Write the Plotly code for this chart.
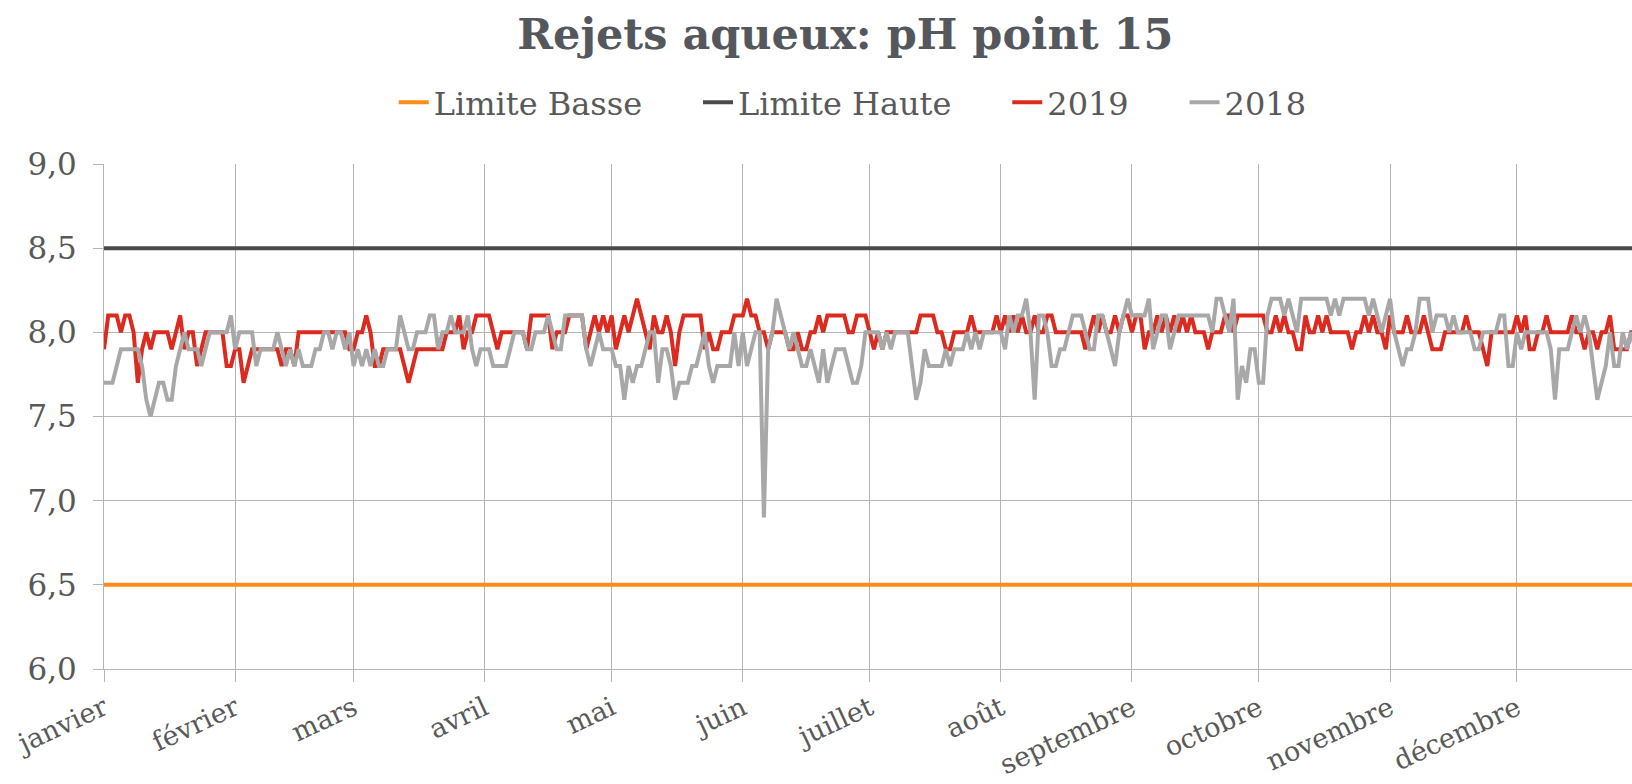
import pandas as pd
import plotly.graph_objects as go

TITLE = "Rejets aqueux: pH point 15"
MONTHS = ["janvier", "février", "mars", "avril", "mai", "juin", "juillet",
          "août", "septembre", "octobre", "novembre", "décembre"]
SERIES_NAMES = ["Limite Basse", "Limite Haute", "2019", "2018"]
LIMITE_BASSE = 6.5
LIMITE_HAUTE = 8.5

ph_2019 = [
    7.9, 8.1, 8.1, 8.1, 8.0, 8.1, 8.1, 8.0, 7.7, 7.9,
    8.0, 7.9, 8.0, 8.0, 8.0, 8.0, 7.9, 8.0, 8.1, 7.9,
    8.0, 8.0, 7.8, 7.9, 8.0, 8.0, 8.0, 8.0, 8.0, 7.8,
    7.8, 7.9, 7.9, 7.7, 7.8, 7.9, 7.9, 7.9, 7.9, 7.9,
    7.9, 7.9, 7.8, 7.9, 7.9, 7.8, 8.0, 8.0, 8.0, 8.0,
    8.0, 8.0, 8.0, 8.0, 8.0, 8.0, 8.0, 8.0, 7.9, 7.9,
    8.0, 8.0, 8.1, 8.0, 7.8, 7.8, 7.9, 7.9, 7.9, 7.9,
    7.9, 7.8, 7.7, 7.8, 7.9, 7.9, 7.9, 7.9, 7.9, 7.9,
    7.9, 8.0, 8.0, 8.0, 8.1, 7.9, 8.0, 8.0, 8.1, 8.1,
    8.1, 8.1, 8.0, 7.9, 8.0, 8.0, 8.0, 8.0, 8.0, 8.0,
    7.9, 8.1, 8.1, 8.1, 8.1, 8.1, 7.9, 8.0, 8.0, 8.0,
    8.1, 8.1, 8.1, 8.1, 7.9, 8.0, 8.1, 8.0, 8.1, 8.0,
    8.1, 7.9, 8.0, 8.1, 8.0, 8.1, 8.2, 8.1, 8.0, 7.9,
    8.1, 8.0, 8.0, 8.1, 8.0, 7.8, 8.0, 8.1, 8.1, 8.1,
    8.1, 8.1, 7.9, 8.0, 7.9, 7.9, 8.0, 8.0, 8.0, 8.1,
    8.1, 8.1, 8.2, 8.1, 8.1, 8.0, 8.0, 7.9, 8.0, 8.0,
    8.0, 8.0, 7.9, 7.9, 8.0, 7.9, 7.9, 8.0, 8.0, 8.1,
    8.0, 8.1, 8.1, 8.1, 8.1, 8.1, 8.0, 8.0, 8.1, 8.1,
    8.1, 8.0, 7.9, 8.0, 7.9, 8.0, 8.0, 8.0, 8.0, 8.0,
    8.0, 8.0, 8.0, 8.1, 8.1, 8.1, 8.1, 8.0, 8.0, 7.9,
    7.9, 8.0, 8.0, 8.0, 8.0, 8.1, 8.0, 8.0, 8.0, 8.0,
    8.0, 8.1, 8.0, 8.1, 8.0, 8.1, 8.0, 8.1, 8.0, 8.0,
    8.1, 8.0, 8.0, 8.1, 8.1, 8.0, 8.0, 8.0, 8.0, 8.0,
    8.0, 8.0, 7.9, 8.0, 8.1, 8.0, 8.1, 8.0, 8.0, 8.1,
    8.0, 8.1, 8.1, 8.0, 8.1, 8.1, 7.9, 8.0, 8.0, 8.1,
    8.0, 8.1, 8.0, 8.1, 8.0, 8.1, 8.0, 8.1, 8.0, 8.0,
    8.0, 7.9, 8.0, 8.0, 8.0, 8.1, 8.1, 8.0, 8.1, 8.1,
    8.1, 8.1, 8.1, 8.1, 8.1, 8.0, 8.0, 8.1, 8.0, 8.1,
    8.0, 8.0, 7.9, 7.9, 8.1, 8.0, 8.0, 8.1, 8.0, 8.1,
    8.0, 8.0, 8.0, 8.0, 8.0, 7.9, 8.0, 8.0, 8.1, 8.0,
    8.1, 8.0, 8.0, 7.9, 8.1, 8.0, 8.0, 8.0, 8.1, 8.0,
    8.0, 8.0, 8.1, 8.0, 7.9, 7.9, 7.9, 8.0, 8.0, 8.0,
    8.0, 8.0, 8.1, 8.0, 8.0, 8.0, 7.9, 7.8, 8.0, 8.0,
    8.0, 8.0, 8.0, 8.0, 8.1, 8.0, 8.1, 7.9, 7.9, 8.0,
    8.0, 8.1, 8.0, 8.0, 8.0, 8.0, 8.0, 8.1, 8.0, 8.0,
    7.9, 8.0, 8.0, 7.9, 8.0, 8.0, 8.1, 7.9, 7.9, 7.9,
    7.9, 8.0, 8.0, 8.0, 8.0,
]

ph_2018 = [
    7.7, 7.7, 7.7, 7.8, 7.9, 7.9, 7.9, 7.9, 7.9, 7.8,
    7.6, 7.5, 7.6, 7.7, 7.7, 7.6, 7.6, 7.8, 7.9, 8.0,
    7.9, 7.9, 7.9, 7.8, 7.9, 8.0, 8.0, 8.0, 8.0, 8.0,
    8.1, 7.9, 8.0, 8.0, 8.0, 8.0, 7.8, 7.9, 7.9, 7.9,
    7.9, 8.0, 7.9, 7.8, 7.9, 7.8, 7.9, 7.8, 7.8, 7.8,
    7.9, 7.9, 8.0, 8.0, 7.9, 8.0, 8.0, 7.9, 8.0, 7.8,
    7.9, 7.8, 7.9, 7.8, 7.9, 7.8, 7.8, 7.9, 7.9, 7.9,
    8.1, 8.0, 7.9, 7.9, 8.0, 8.0, 8.0, 8.1, 8.1, 7.9,
    8.0, 8.0, 8.1, 8.0, 8.0, 8.0, 8.1, 7.9, 7.8, 7.9,
    7.9, 7.9, 7.8, 7.8, 7.8, 7.8, 7.9, 8.0, 8.0, 8.0,
    7.9, 7.9, 8.0, 8.0, 8.0, 8.1, 8.0, 7.9, 7.9, 8.1,
    8.1, 8.1, 8.1, 8.1, 7.9, 7.8, 7.9, 8.0, 7.9, 7.9,
    7.9, 7.8, 7.8, 7.6, 7.8, 7.7, 7.8, 7.8, 7.9, 8.0,
    8.0, 7.7, 7.9, 7.9, 7.8, 7.6, 7.7, 7.7, 7.7, 7.8,
    7.8, 7.9, 8.0, 7.8, 7.7, 7.8, 7.8, 7.8, 7.8, 8.0,
    7.8, 8.0, 7.8, 7.9, 8.0, 8.0, 6.9, 7.9, 8.0, 8.2,
    8.1, 8.0, 7.9, 8.0, 7.9, 7.8, 7.8, 7.9, 7.8, 7.7,
    7.9, 7.7, 7.8, 7.9, 7.9, 7.9, 7.8, 7.7, 7.7, 7.8,
    8.0, 8.0, 8.0, 8.0, 7.9, 8.0, 7.9, 8.0, 8.0, 8.0,
    8.0, 7.8, 7.6, 7.7, 7.9, 7.8, 7.8, 7.8, 7.8, 7.9,
    7.8, 7.9, 7.9, 7.9, 8.0, 7.9, 8.0, 7.9, 8.0, 8.0,
    8.0, 8.0, 8.0, 7.9, 8.1, 8.0, 8.1, 8.1, 8.2, 8.0,
    7.6, 8.1, 8.1, 8.0, 7.8, 7.8, 7.9, 7.9, 8.0, 8.1,
    8.1, 8.1, 8.0, 7.9, 7.9, 8.1, 8.1, 8.0, 7.9, 7.8,
    8.0, 8.1, 8.2, 8.1, 8.1, 8.1, 8.1, 8.2, 7.9, 8.0,
    8.1, 8.1, 7.9, 8.0, 8.1, 8.1, 8.1, 8.1, 8.1, 8.1,
    8.1, 8.1, 8.0, 8.2, 8.2, 8.1, 8.0, 8.2, 7.6, 7.8,
    7.7, 7.9, 7.9, 7.7, 7.7, 8.1, 8.2, 8.2, 8.2, 8.1,
    8.2, 8.1, 8.0, 8.2, 8.2, 8.2, 8.2, 8.2, 8.2, 8.2,
    8.1, 8.2, 8.1, 8.2, 8.2, 8.2, 8.2, 8.2, 8.2, 8.1,
    8.2, 8.1, 8.0, 8.1, 8.2, 8.0, 7.9, 7.8, 7.9, 7.9,
    8.0, 8.2, 8.2, 8.2, 8.0, 8.1, 8.1, 8.1, 8.0, 8.1,
    8.0, 8.0, 8.0, 8.0, 7.9, 7.9, 8.0, 8.0, 8.0, 8.0,
    8.1, 8.1, 7.8, 7.8, 8.0, 7.9, 8.0, 8.0, 8.0, 8.0,
    8.0, 8.0, 7.9, 7.6, 7.9, 7.9, 7.9, 8.0, 8.1, 8.0,
    8.1, 8.0, 7.8, 7.6, 7.7, 7.8, 8.0, 7.8, 7.8, 8.0,
    7.9, 8.0, 7.9, 7.9, 7.9,
]

dates = pd.date_range("2019-01-01", periods=len(ph_2019), freq="D")
month_starts = pd.date_range("2019-01-01", periods=12, freq="MS")

FONT = "DejaVu Serif"
TEXT = "#595959"
GRID = "#B5B5B5"
PAD = "\u00a0" * 5  # spacing between legend entries

fig = go.Figure()
fig.add_trace(go.Scatter(x=dates, y=[LIMITE_BASSE] * len(dates), mode="lines",
                         name=SERIES_NAMES[0] + PAD, line=dict(color="#FF8C1A", width=4)))
fig.add_trace(go.Scatter(x=dates, y=[LIMITE_HAUTE] * len(dates), mode="lines",
                         name=SERIES_NAMES[1] + PAD, line=dict(color="#4A4A4A", width=4)))
fig.add_trace(go.Scatter(x=dates, y=ph_2019, mode="lines", name=SERIES_NAMES[2] + PAD,
                         line=dict(color="#DC2A1E", width=4)))
fig.add_trace(go.Scatter(x=dates, y=ph_2018, mode="lines", name=SERIES_NAMES[3],
                         line=dict(color="#A8A8A8", width=4)))

x_end = pd.Timestamp("2019-01-01") + pd.Timedelta(days=361.2)

fig.update_layout(
    width=1632, height=784,
    margin=dict(l=104, r=0, t=164, b=115, autoexpand=False),
    paper_bgcolor="white", plot_bgcolor="white",
    separators=", ",
    font=dict(family=FONT, color=TEXT, size=30),
    title=dict(text="<b>" + TITLE + "</b>", x=0.518, xanchor="center",
               y=0.957, yanchor="middle", xref="container", yref="container",
               font=dict(family=FONT, size=43, color="#54575C")),
    legend=dict(orientation="h", x=0.49, xanchor="center", y=1.122, yanchor="middle",
                font=dict(family=FONT, size=32, color=TEXT),
                bgcolor="rgba(0,0,0,0)"),
    showlegend=True,
)
fig.update_xaxes(
    range=[pd.Timestamp("2019-01-01"), x_end],
    tickvals=month_starts, ticktext=MONTHS, tickangle=-25,
    showgrid=True, gridcolor=GRID, gridwidth=1,
    ticks="outside", ticklen=12, tickcolor=GRID,
    showline=True, linecolor=GRID, linewidth=1,
    tickfont=dict(family=FONT, size=27, color=TEXT),
    ticklabelstandoff=0,
    zeroline=False, automargin=False,
)
fig.update_yaxes(
    range=[6.0, 9.0], dtick=0.5, tick0=6.0, tickformat=".1f",
    showgrid=True, gridcolor=GRID, gridwidth=1,
    ticks="outside", ticklen=10, tickcolor=GRID,
    showline=True, linecolor=GRID, linewidth=1,
    tickfont=dict(family=FONT, size=31, color=TEXT),
    ticklabelstandoff=10,
    zeroline=False, automargin=False,
)

post = (
    "document.documentElement.style.margin='0';"
    "document.body.style.margin='0';"
    "document.body.style.padding='0';"
    "document.documentElement.style.overflow='hidden';"
    "document.body.style.overflow='hidden';"
)
fig.write_html("out.html", post_script=post, config={"displayModeBar": False})
